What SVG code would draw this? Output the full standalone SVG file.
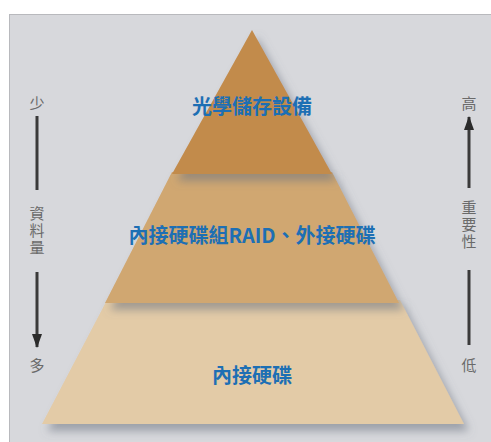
<svg xmlns="http://www.w3.org/2000/svg" width="491" height="442" viewBox="0 0 491 442">
<defs>
<filter id="sh" x="-20%" y="-20%" width="140%" height="150%">
<feDropShadow dx="5" dy="7" stdDeviation="4" flood-color="#6d7380" flood-opacity="0.55"/>
</filter>
<marker id="ah" viewBox="0 0 14 10" refX="13" refY="5" markerWidth="14" markerHeight="10" markerUnits="userSpaceOnUse" orient="auto">
<path d="M0,0 L14,5 L0,10 Z" fill="#2b2b2b"/>
</marker>
</defs>
<style>
.lbl{font-family:"Noto Sans CJK TC","Noto Sans CJK SC",sans-serif;font-weight:bold;fill:#1d6fb4;text-anchor:middle}
.ax{font-family:"Noto Sans CJK TC","Noto Sans CJK SC",sans-serif;font-size:15px;fill:#6a6a6a;text-anchor:middle}
.vt{writing-mode:vertical-rl;letter-spacing:2px}
.ln{stroke:#3a3a3a;stroke-width:3;fill:none}
</style>
<rect x="9.5" y="14.5" width="490" height="440" fill="#d7d8dc" stroke="#b8b9bd" stroke-width="1"/>
<g id="tier-bottom">
<polygon points="107,300 400,300 464,424 42,424" fill="#e3cba7" filter="url(#sh)"/>
<text class="lbl" x="252" y="383" font-size="20">內接硬碟</text>
</g>
<g id="tier-middle">
<polygon points="172,172 332,172 399,303 105,303" fill="#d0a771" filter="url(#sh)"/>
<text class="lbl" x="252" y="243" font-size="20">內接硬碟組RAID、外接硬碟</text>
</g>
<g id="tier-top">
<polygon points="252,30 332,174 172,174" fill="#c28b4b" filter="url(#sh)"/>
<text class="lbl" x="252" y="114" font-size="20">光學儲存設備</text>
</g>
<g id="axis-left">
<text class="ax" x="37" y="109">少</text>
<text class="ax vt" x="37" y="231">資料量</text>
<text class="ax" x="37" y="371">多</text>
</g>
<g id="axis-right">
<text class="ax" x="469" y="109">高</text>
<text class="ax vt" x="469" y="225">重要性</text>
<text class="ax" x="469" y="371">低</text>
</g>
<g id="connectors">
<line class="ln" x1="37" y1="116" x2="37" y2="190"/>
<line class="ln" x1="37" y1="272" x2="37" y2="347" marker-end="url(#ah)"/>
<line class="ln" x1="469" y1="188" x2="469" y2="117" marker-end="url(#ah)"/>
<line class="ln" x1="469" y1="270" x2="469" y2="345"/>
</g>
</svg>
